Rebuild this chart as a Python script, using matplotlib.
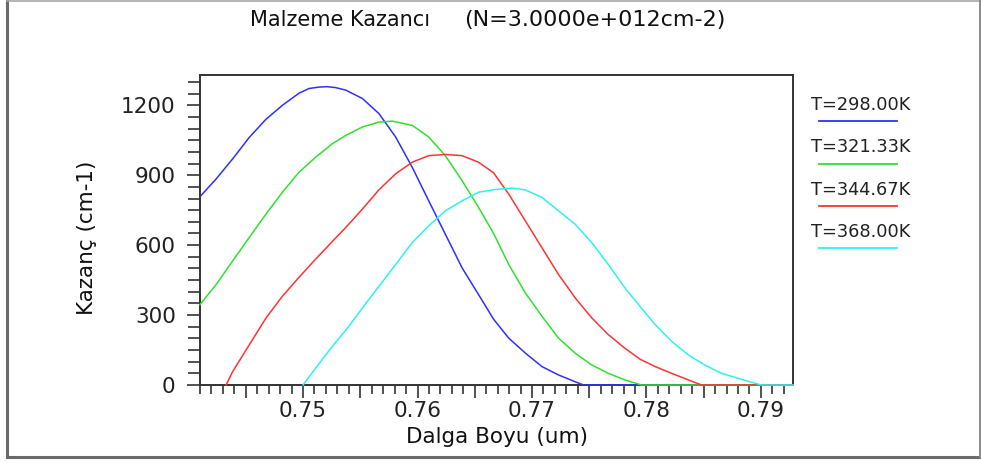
import numpy as np
import matplotlib
matplotlib.use("Agg")
import matplotlib.pyplot as plt
from matplotlib.ticker import MultipleLocator, FuncFormatter
from matplotlib.lines import Line2D

W, H = 981, 463

# gain curves (wavelength in um, gain in cm-1)
labels = ["T=298.00K", "T=321.33K", "T=344.67K", "T=368.00K"]
colors = ["#3030ff", "#30e030", "#ff3333", "#30f0f0"]

blue_x = [0.7410, 0.74241, 0.74385, 0.7453, 0.74676, 0.7482, 0.74965, 0.75052,
          0.75139, 0.7521, 0.75284, 0.75374, 0.75519, 0.75664, 0.75809, 0.75954,
          0.76098, 0.76243, 0.76389, 0.76533, 0.76665, 0.76797, 0.76942, 0.77087,
          0.77232, 0.77377, 0.7745, 0.7928]
blue_y = [808, 884, 970, 1062, 1140, 1200, 1252, 1272,
          1278, 1280, 1276, 1265, 1229, 1164, 1064, 934,
          790, 647, 503, 388, 282, 201, 137, 79,
          43, 14, 0, 0]

green_x = [0.7410, 0.74241, 0.74385, 0.7453, 0.74676, 0.7482, 0.74965, 0.7511,
           0.75255, 0.75374, 0.75519, 0.75664, 0.7578, 0.75954, 0.76098, 0.76243,
           0.76389, 0.76533, 0.76665, 0.76797, 0.76942, 0.77087, 0.77232, 0.77377,
           0.77522, 0.77667, 0.77811, 0.77957, 0.7928]
green_y = [345, 431, 532, 633, 733, 827, 913, 977,
           1035, 1071, 1107, 1128, 1132, 1114, 1064, 984,
           877, 762, 650, 517, 395, 295, 201, 137,
           86, 50, 22, 0, 0]

red_x = [0.74328, 0.74385, 0.7453, 0.74676, 0.7482, 0.74965, 0.7511, 0.75255,
         0.7540, 0.75519, 0.75664, 0.75809, 0.75954, 0.76098, 0.76243, 0.76389,
         0.76533, 0.76665, 0.76797, 0.76942, 0.77087, 0.77232, 0.77377, 0.77522,
         0.77667, 0.77811, 0.77943, 0.78076, 0.7822, 0.78365, 0.78481, 0.7928]
red_y = [0, 57, 172, 287, 381, 462, 540, 615,
         690, 755, 838, 906, 956, 984, 989, 984,
         956, 910, 819, 704, 589, 474, 374, 288,
         216, 158, 111, 79, 50, 22, 0, 0]

cyan_x = [0.7500, 0.7511, 0.75255, 0.7540, 0.75519, 0.75664, 0.75809, 0.75954,
          0.76098, 0.76243, 0.76389, 0.76533, 0.76665, 0.76826, 0.76942, 0.77087,
          0.77232, 0.77377, 0.77522, 0.77667, 0.77811, 0.77943, 0.78076, 0.7822,
          0.78365, 0.7851, 0.78655, 0.788, 0.78916, 0.79003, 0.7928]
cyan_y = [0, 72, 165, 252, 331, 424, 517, 611,
          683, 747, 790, 827, 838, 845, 837, 805,
          747, 690, 611, 517, 417, 338, 259, 187,
          129, 86, 50, 29, 12, 0, 0]

series = [(blue_x, blue_y), (green_x, green_y), (red_x, red_y), (cyan_x, cyan_y)]

plt.rcParams['font.family'] = ['DejaVu Sans']

fig = plt.figure(figsize=(W / 100, H / 100), dpi=100)
fig.patch.set_facecolor("white")

def fx(px):
    return px / W

def fy(py):
    return 1 - py / H

ax = fig.add_axes([fx(200), fy(385), (793 - 200) / W, (385 - 75) / H])

for (xs, ys), c in zip(series, colors):
    ax.plot(xs, ys, color=c, lw=1.1, solid_joinstyle="round", zorder=3,
            clip_on=False)

ax.set_xlim(0.7410, 0.7928)
ax.set_ylim(0, 1330)

ax.xaxis.set_major_locator(MultipleLocator(0.005))
ax.xaxis.set_minor_locator(MultipleLocator(0.001))
ax.xaxis.set_major_formatter(FuncFormatter(
    lambda v, p: f"{v:.2f}" if abs(round(v * 100) - v * 100) < 1e-6 else ""))
ax.yaxis.set_major_locator(MultipleLocator(300))
ax.yaxis.set_minor_locator(MultipleLocator(50))

ax.tick_params(axis="both", which="both", direction="out", color="#333333",
               width=1.2, labelsize=15.5, labelcolor="#222222")
ax.tick_params(axis="x", which="major", length=9.5, pad=2)
ax.tick_params(axis="x", which="minor", length=6.5)
ax.tick_params(axis="y", which="major", length=9.5, pad=8)
ax.tick_params(axis="y", which="minor", length=9)
ax.tick_params(top=False, right=False)

for s in ax.spines.values():
    s.set_color("#333333")
    s.set_linewidth(1.4)

fig.text(fx(497), fy(437), "Dalga Boyu (um)", ha="center", va="center",
         fontsize=15.5, color="#111111")
fig.text(fx(87), fy(238), "Kazanç (cm-1)", ha="center", va="center",
         rotation=90, fontsize=15.5, color="#111111")

# title in two pieces, as in the reference
fig.text(fx(250), fy(20), "Malzeme Kazancı", ha="left", va="center",
         fontsize=15, color="#111111")
fig.text(fx(726), fy(20), "(N=3.0000e+012cm-2)", ha="right", va="center",
         fontsize=16, color="#111111")

# legend: label above a short line sample
for i, (lab, c) in enumerate(zip(labels, colors)):
    ty = 105 + 42.3 * i
    ly = 121.5 + 42.3 * i
    fig.text(fx(811), fy(ty), lab, ha="left", va="center", fontsize=12.8,
             color="#222222")
    fig.add_artist(Line2D([fx(819), fx(897)], [fy(ly), fy(ly)], color=c, lw=1.3,
                          transform=fig.transFigure))

# grey frame round the picture
fig.add_artist(Line2D([fx(7), fx(7)], [fy(0), fy(457)], color="#6a6a6a", lw=2.2,
                      transform=fig.transFigure))
fig.add_artist(Line2D([fx(7), fx(980)], [fy(457), fy(457)], color="#6a6a6a", lw=2.2,
                      transform=fig.transFigure))
fig.add_artist(Line2D([fx(7), fx(980)], [fy(0.5), fy(0.5)], color="#a8a8a8", lw=1.2,
                      transform=fig.transFigure))
fig.add_artist(Line2D([fx(979.5), fx(979.5)], [fy(0), fy(457)], color="#8a8a8a", lw=1.4,
                      transform=fig.transFigure))

fig.savefig("out.png", dpi=100, facecolor="white")
